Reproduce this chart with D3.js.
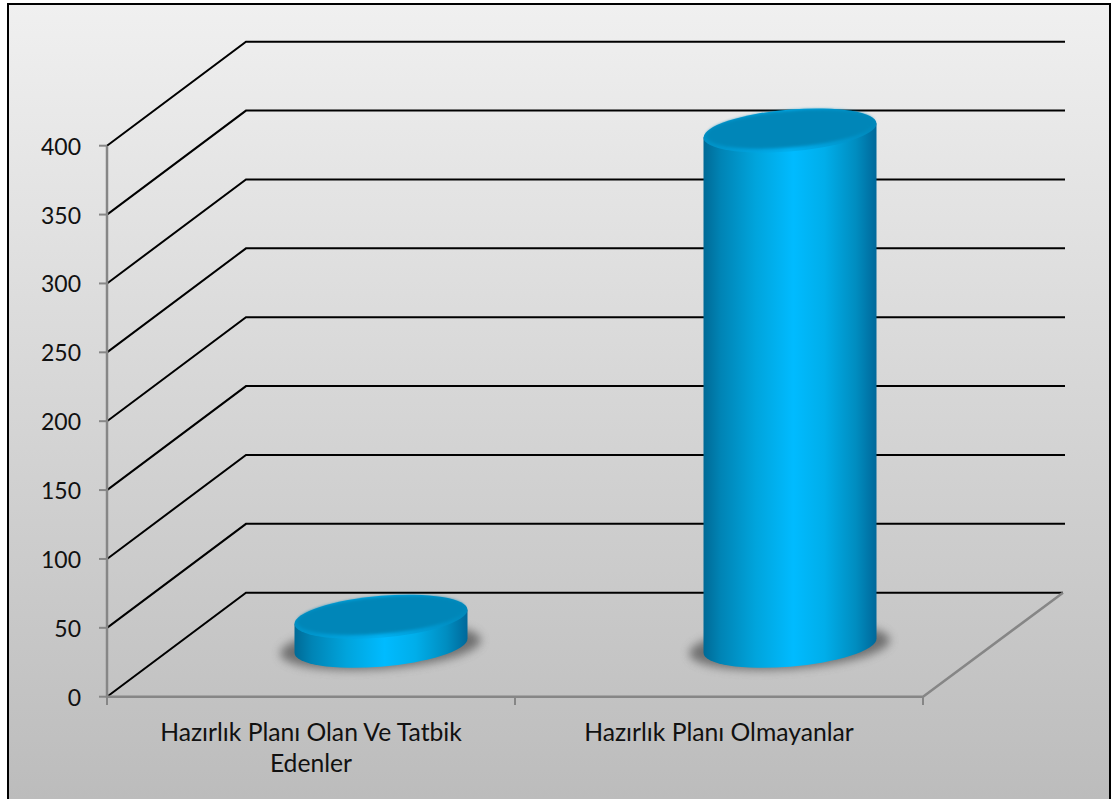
<!DOCTYPE html>
<html><head><meta charset="utf-8">
<script src="https://cdn.jsdelivr.net/npm/d3@7/dist/d3.min.js"></script>
<style>html,body{margin:0;padding:0;background:#fff;overflow:hidden}svg{display:block}text{font-family:Lato,sans-serif;fill:#111}</style>
</head><body><svg id="c" width="1113" height="799"></svg>
<script>
const categories = ["Hazırlık Planı Olan Ve Tatbik Edenler", "Hazırlık Planı Olmayanlar"];
const categoryLines = [["Hazırlık Planı Olan Ve Tatbik", "Edenler"], ["Hazırlık Planı Olmayanlar"]];
const values = [21, 374];
const yTicks = [0, 50, 100, 150, 200, 250, 300, 350, 400];

const svg = d3.select("#c");
const defs = svg.append("defs");
const bg = defs.append("linearGradient").attr("id","bg").attr("x1",0).attr("x2",0).attr("y1",0).attr("y2",1);
bg.append("stop").attr("offset",0).attr("stop-color","#f0f0f0");
bg.append("stop").attr("offset",1).attr("stop-color","#bbbbbb");
const side = defs.append("linearGradient").attr("id","side").attr("x1",0).attr("x2",1).attr("y1",0).attr("y2",0);
[[0,"#006a96"],[.1,"#0084b5"],[.3,"#00a4dc"],[.52,"#00bbff"],[.7,"#00aeea"],[.88,"#008dc0"],[1,"#00689a"]]
  .forEach(([o,c])=>side.append("stop").attr("offset",o).attr("stop-color",c));
const rim = defs.append("linearGradient").attr("id","rim").attr("x1",0).attr("x2",1).attr("y1",0).attr("y2",0);
[[0,"#0090c4"],[.5,"#00b0f0"],[1,"#0088ba"]].forEach(([o,c])=>rim.append("stop").attr("offset",o).attr("stop-color",c));
defs.append("filter").attr("id","blur").attr("x","-30%").attr("y","-60%").attr("width","160%").attr("height","220%")
  .append("feGaussianBlur").attr("stdDeviation",5);
defs.append("filter").attr("id","soft").attr("x","-10%").attr("y","-20%").attr("width","120%").attr("height","140%")
  .append("feGaussianBlur").attr("stdDeviation",1.5);

svg.append("rect").attr("x",8).attr("y",4).attr("width",1102).attr("height",810)
  .attr("fill","url(#bg)").attr("stroke","#000").attr("stroke-width",2);

const x = d3.scaleBand().domain(categories).range([107,923]);
const barX = d3.scaleBand().domain(categories).range([107,925]);
const y = d3.scaleLinear().domain([0,400]).range([696.7,145.7]);
const depthX = 139, depthY = 104;

yTicks.forEach(t=>{
  svg.append("path").attr("fill","none").attr("stroke","#000").attr("stroke-width",2)
    .attr("d",`M${x.range()[0]},${y(t)}L${x.range()[0]+depthX},${y(t)-depthY}H${t===0?1063:1065}`);
});
const grey="#868686";
svg.append("path").attr("fill","none").attr("stroke",grey).attr("stroke-width",2.5)
  .attr("d",`M${x.range()[0]},${y(400)}V${y(0)}H${x.range()[1]}L${x.range()[1]+depthX+1},${y(0)-depthY}`);
yTicks.forEach(t=>{
  svg.append("line").attr("x1",99).attr("x2",107).attr("y1",y(t)).attr("y2",y(t)).attr("stroke",grey).attr("stroke-width",2);
  svg.append("text").attr("x",81).attr("y",y(t)+9).attr("text-anchor","end").attr("font-size",23).text(t);
});
[...categories.map(c=>x(c)),x.range()[1]].forEach(v=>{
  svg.append("line").attr("x1",v).attr("x2",v).attr("y1",697).attr("y2",705).attr("stroke",grey).attr("stroke-width",2);
});
categories.forEach((c,i)=>{
  categoryLines[i].forEach((l,k)=>{
    svg.append("text").attr("x",x(c)+x.bandwidth()/2).attr("y",741+k*31).attr("text-anchor","middle").attr("font-size",24.7).text(l);
  });
});

const a = 86.5, b = 21, shear = -0.081;
categories.forEach((c,i)=>{
  const cx = barX(c)+barX.bandwidth()/2+depthX/2;
  const cy = y(0)-depthY/2+1;
  const h = y(0)-y(values[i]);
  svg.append("ellipse").attr("cx",cx-0.5).attr("cy",cy+1).attr("rx",a+14).attr("ry",b+1)
    .attr("transform",`rotate(-4 ${cx} ${cy})`).attr("fill","#5a5a5a").attr("opacity",.8).attr("filter","url(#blur)");
  const g = svg.append("g").attr("transform",`matrix(1,${shear},0,1,${cx},${cy})`);
  g.append("path").attr("fill","url(#side)")
    .attr("d",`M${-a},${-h}V0A${a},${b} 0 0 0 ${a},0V${-h}Z`);
  g.append("ellipse").attr("cx",0).attr("cy",-h).attr("rx",a).attr("ry",b).attr("fill","url(#rim)");
  g.append("ellipse").attr("cx",0).attr("cy",-h-1.5).attr("rx",a-2.5).attr("ry",b-2.5).attr("fill","#0086b8").attr("filter","url(#soft)");
});
</script></body></html>
